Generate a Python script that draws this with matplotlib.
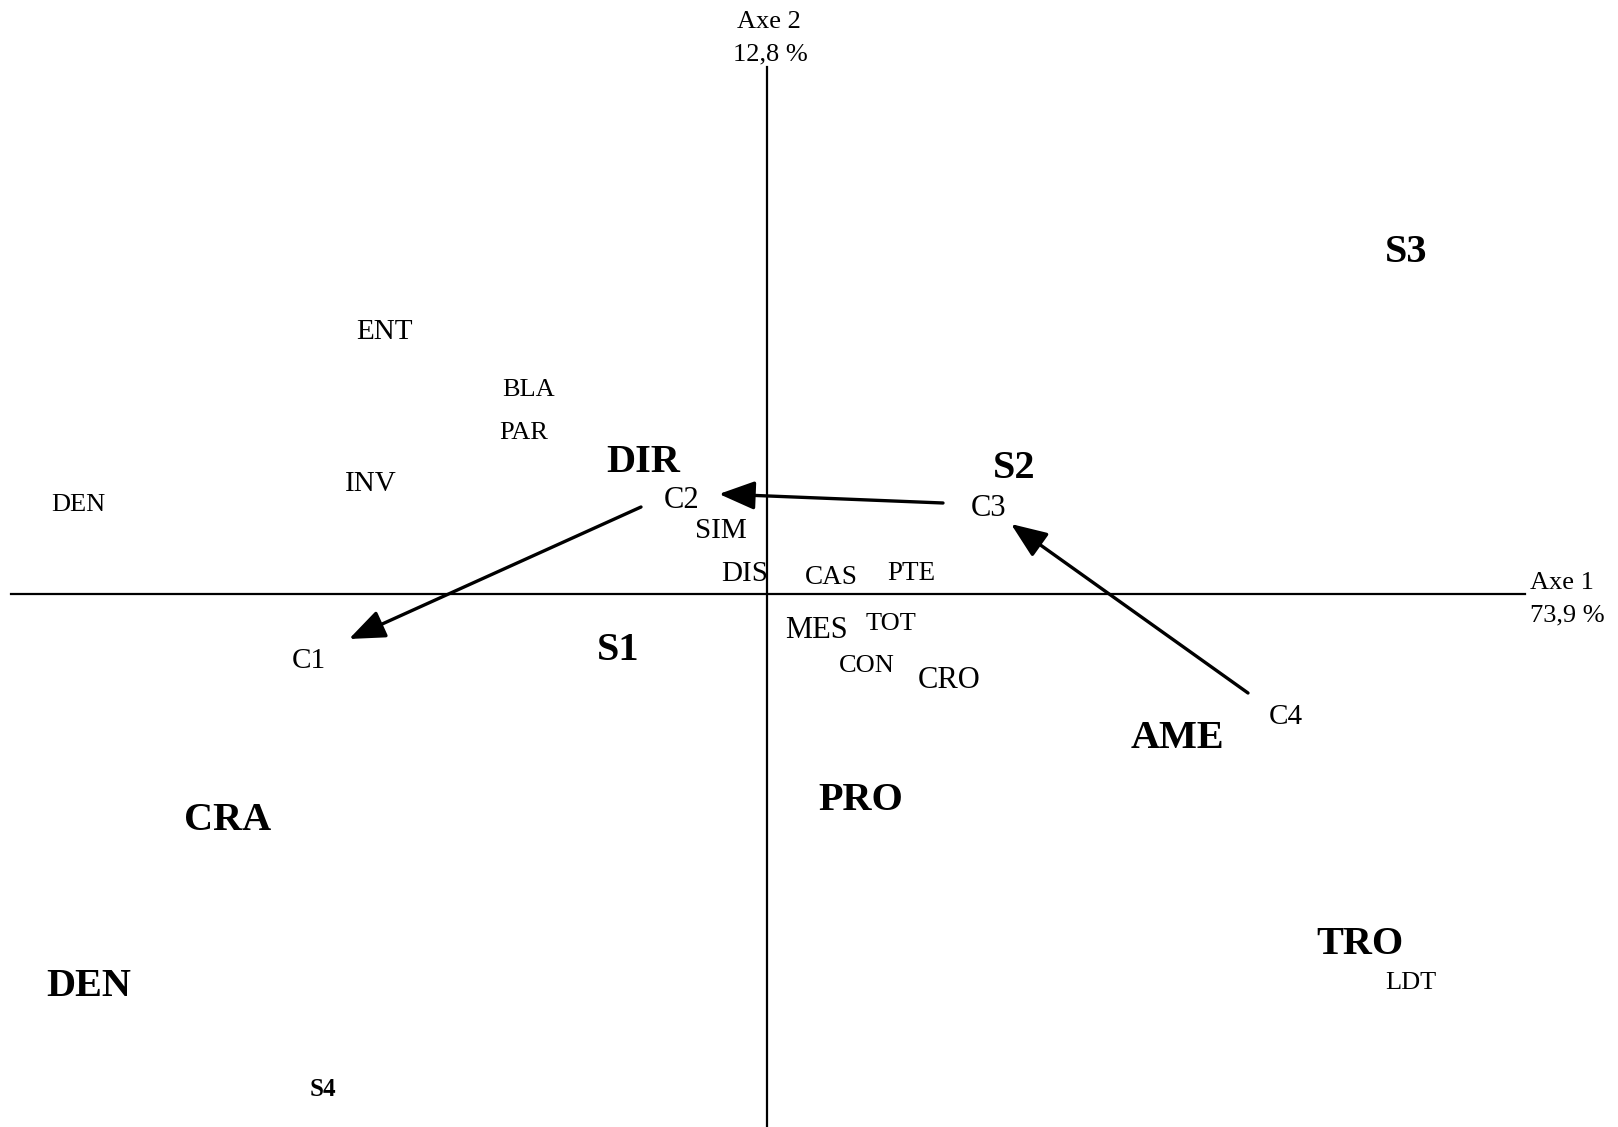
import matplotlib
matplotlib.use("Agg")
import matplotlib.pyplot as plt

plt.rcParams['font.family'] = ['Liberation Serif', 'DejaVu Serif']

# Correspondence analysis plane: Axe 1 (73,9 %) x Axe 2 (12,8 %)
labels = ["ENT", "BLA", "PAR", "INV", "DEN", "DIR", "C2", "SIM", "DIS", "CAS",
          "PTE", "S2", "C3", "S3", "MES", "TOT", "CON", "CRO", "C1", "S1",
          "C4", "AME", "PRO", "CRA", "DEN", "S4", "TRO", "LDT"]
axe1 = [-3.83, -2.38, -2.43, -3.96, -6.89, -1.24, -0.85, -0.46, -0.22, 0.64,
        1.44, 2.47, 2.22, 6.39, 0.49, 1.24, 1.00, 1.82, -4.58, -1.49,
        5.19, 4.10, 0.94, -5.39, -6.78, -4.44, 5.93, 6.44]
axe2 = [2.62, 2.04, 1.61, 1.10, 0.89, 1.32, 0.93, 0.63, 0.20, 0.16,
        0.21, 1.25, 0.85, 3.41, -0.36, -0.30, -0.72, -0.87, -0.67, -0.56,
        -1.23, -1.45, -2.06, -2.27, -3.93, -4.95, -3.51, -3.89]
bold = [False, False, False, False, False, True, False, False, False, False,
        False, True, False, True, False, False, False, False, False, True,
        False, True, True, True, True, True, True, False]
sizes = [21, 19, 19, 21, 19, 29, 22, 21, 21, 19.5,
         19.5, 29, 22, 29, 22, 19, 19, 22, 21, 29,
         21, 29, 29, 29, 29, 18, 29, 19]

# trajectory arrows (from -> to)
arrow_from_x = [1.76, -1.26, 4.81]
arrow_from_y = [0.91, 0.87, -0.99]
arrow_to_x = [-0.48, -4.18, 2.44]
arrow_to_y = [1.00, -0.45, 0.70]

fig = plt.figure(figsize=(16.18, 11.27), dpi=100)
ax = fig.add_axes([0, 0, 1, 1])
ax.set_xlim(-7.67, 8.51)
ax.set_ylim(-5.33, 5.94)
ax.axis('off')

# axes lines
ax.plot([-7.56, 7.58], [0, 0], color='black', lw=1.6)
ax.plot([0, 0], [-5.33, 5.27], color='black', lw=1.6)

ax.text(0.02, 5.72, "Axe 2", ha='center', va='center', fontsize=19)
ax.text(0.03, 5.40, "12,8 %", ha='center', va='center', fontsize=19)
ax.text(7.63, 0.11, "Axe 1", ha='left', va='center', fontsize=19)
ax.text(7.63, -0.21, "73,9 %", ha='left', va='center', fontsize=19)

for lab, x, y, b, s in zip(labels, axe1, axe2, bold, sizes):
    ax.text(x, y, lab, ha='center', va='center', fontsize=s,
            fontweight='bold' if b else 'normal')

for x0, y0, x1, y1 in zip(arrow_from_x, arrow_from_y, arrow_to_x, arrow_to_y):
    ax.annotate("", xy=(x1, y1), xytext=(x0, y0),
                arrowprops=dict(arrowstyle='-|>,head_length=1.0,head_width=0.4',
                                mutation_scale=22, color='black', lw=2.4,
                                shrinkA=0, shrinkB=0))

fig.savefig("out.png", dpi=100, facecolor='white')
